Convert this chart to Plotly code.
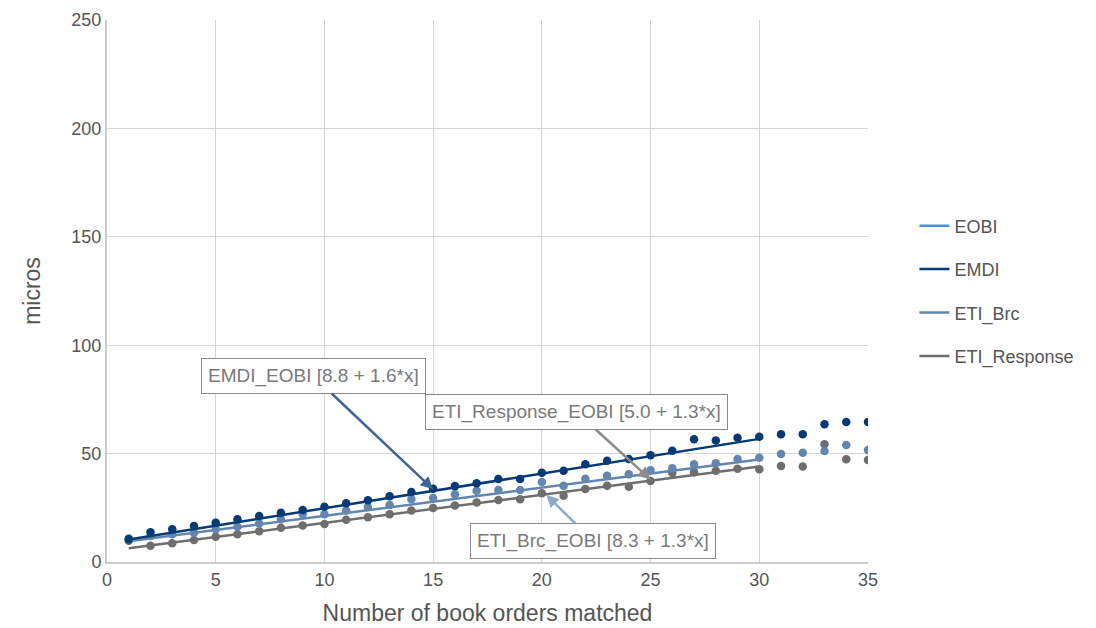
import plotly.graph_objects as go

x_vals = list(range(1, 36))

emdi = [10.5, 13.7, 15.1, 16.6, 18.1, 19.7, 21.2, 22.7, 24.0, 25.5,
        27.1, 28.5, 30.3, 32.3, 33.8, 35.0, 36.3, 38.3, 38.3, 41.2,
        42.1, 45.1, 46.7, 47.5, 49.2, 51.3, 56.6, 56.1, 57.3, 57.8,
        58.9, 58.9, 63.5, 64.6, 64.6]
eti_brc = [10.8, 12.0, 12.8, 13.5, 15.1, 16.3, 17.8, 19.7, 22.0, 22.0,
           23.7, 25.4, 26.3, 28.9, 29.5, 31.2, 32.9, 33.2, 33.2, 36.9,
           35.2, 38.4, 39.8, 40.5, 42.3, 43.2, 45.1, 45.5, 47.5, 48.1,
           49.8, 50.4, 51.2, 54.0, 51.7]
eti_resp = [9.8, 7.5, 8.6, 10.1, 11.7, 12.8, 14.2, 15.8, 16.8, 17.5,
            19.5, 20.6, 22.0, 23.8, 24.9, 26.1, 27.5, 28.6, 28.9, 31.7,
            30.6, 33.7, 35.2, 34.7, 37.4, 41.1, 41.4, 42.1, 43.0, 42.8,
            44.3, 44.0, 54.3, 47.4, 47.1]
eobi = [None]  # series shown in legend only

# trend line fits (intercept, slope) and fit range
fit_range = [1, 30]
emdi_fit = (8.8, 1.6)
brc_fit = (8.3, 1.3)
resp_fit = (5.0, 1.3)

colors = {"EOBI": "#4a90e2", "EMDI": "#063a74", "ETI_Brc": "#6386ae", "ETI_Response": "#6e6e6e"}
FONT = "Liberation Sans, Arial"

fig = go.Figure()

fig.add_trace(go.Scatter(x=eobi, y=eobi, mode="lines", name="EOBI",
                         line=dict(color=colors["EOBI"], width=2.5),
                         legendgroup="a", showlegend=True, legendrank=1))

def add_series(name, ys, fit, grp, rank):
    xs = fit_range
    fig.add_trace(go.Scatter(x=xs, y=[fit[0] + fit[1] * v for v in xs], mode="lines",
                             name=name, line=dict(color=colors[name], width=2.5),
                             legendgroup=grp, showlegend=True, legendrank=rank))
    fig.add_trace(go.Scatter(x=x_vals, y=ys, mode="markers", name=name,
                             marker=dict(color=colors[name], size=8.5),
                             legendgroup=grp, showlegend=False, legendrank=rank))

add_series("ETI_Response", eti_resp, resp_fit, "d", 4)
add_series("ETI_Brc", eti_brc, brc_fit, "c", 3)
add_series("EMDI", emdi, emdi_fit, "b", 2)

ann_text = ["EMDI_EOBI [8.8 + 1.6*x]", "ETI_Response_EOBI [5.0 + 1.3*x]", "ETI_Brc_EOBI [8.3 + 1.3*x]"]
ann_head = [(15, 33.5), (25.0, 38.0), (20.2, 31.0)]
ann_tail = [(9.48, 85.8), (21.6, 69.2), (22.35, 9.7)]
ann_arrow = ["#3e6593", "#8c8c8c", "#8eaacb"]

for t, h, tl, c in zip(ann_text, ann_head, ann_tail, ann_arrow):
    fig.add_annotation(x=h[0], y=h[1], ax=tl[0], ay=tl[1], xref="x", yref="y",
                       axref="x", ayref="y", text=t, showarrow=True,
                       arrowhead=2, arrowsize=1, arrowwidth=2.5, arrowcolor=c,
                       font=dict(family=FONT, size=19, color="#7a7a7a"),
                       bgcolor="white", bordercolor="#8a8a8a", borderwidth=1, borderpad=6)

fig.update_layout(
    width=1096, height=628,
    margin=dict(l=99, r=236, t=12, b=74, autoexpand=False),
    plot_bgcolor="white", paper_bgcolor="white",
    font=dict(family=FONT, size=18, color="#555555"),
    legend=dict(x=1.061, y=0.5, yanchor="middle", xanchor="left",
                font=dict(family=FONT, size=18, color="#555555"), tracegroupgap=17,
                bgcolor="rgba(0,0,0,0)"),
    xaxis=dict(range=[0, 35], dtick=5, showgrid=True, gridcolor="#d6d6d6", gridwidth=1,
               showline=True, linecolor="#cccccc", linewidth=2, zeroline=False,
               ticks="", tickfont=dict(size=18, color="#555555"), automargin=False,
               title=dict(text="Number of book orders matched", font=dict(size=23, color="#555555"),
                          standoff=16)),
    yaxis=dict(range=[0, 250], dtick=50, showgrid=True, gridcolor="#d6d6d6", gridwidth=1,
               showline=True, linecolor="#cccccc", linewidth=2, zeroline=False,
               ticks="", tickfont=dict(size=18, color="#555555"), ticklabelstandoff=0,
               automargin=False,
               title=dict(text="micros", font=dict(size=23, color="#555555"), standoff=24)),
)

fig.write_html("out.html")
